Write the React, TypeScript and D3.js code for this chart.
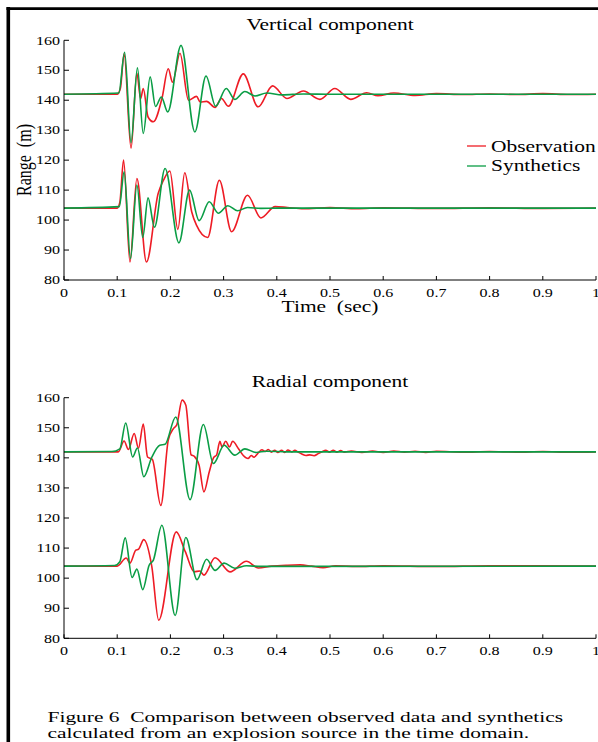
import React from "react";
import * as d3 from "d3";

// ---------- data: [time (s), range (m)] ----------
const xTicks = [0, 0.1, 0.2, 0.3, 0.4, 0.5, 0.6, 0.7, 0.8, 0.9, 1];
const xTickLabels = ["0", "0.1", "0.2", "0.3", "0.4", "0.5", "0.6", "0.7", "0.8", "0.9", "1"];
const yTicks = [80, 90, 100, 110, 120, 130, 140, 150, 160];

const vertObsUpper: [number, number][] = [
  [0, 142], [0.1, 142], [0.106, 144], [0.113, 155.5], [0.126, 124], [0.137, 149], [0.144, 140.5],
  [0.149, 143.9], [0.158, 134.4], [0.168, 132.8], [0.184, 140.5], [0.196, 150.5], [0.204, 146],
  [0.218, 155.7], [0.234, 140], [0.249, 141.3], [0.256, 139.4], [0.268, 139.6], [0.284, 137.6],
  [0.296, 140.6], [0.309, 138], [0.337, 148.8], [0.365, 137.8], [0.392, 144.8], [0.419, 140.6],
  [0.45, 143.1], [0.481, 140.3], [0.509, 143.9], [0.539, 140.3], [0.569, 142.5], [0.59, 141.5],
  [0.62, 142.4], [0.66, 141.6], [0.7, 142.2], [0.75, 141.9], [0.8, 142.1], [0.85, 141.9],
  [0.9, 142.2], [0.95, 141.9], [1, 142],
];
const vertSynUpper: [number, number][] = [
  [0, 142], [0.103, 142.4], [0.114, 156], [0.126, 125.8], [0.138, 150.8], [0.149, 128.9],
  [0.162, 147.8], [0.172, 137.9], [0.183, 141.1], [0.195, 136.1], [0.22, 158.3], [0.246, 129.4],
  [0.267, 148.1], [0.285, 138], [0.305, 143.9], [0.321, 140.3], [0.34, 142.9], [0.359, 141.4],
  [0.381, 142.4], [0.41, 141.8], [0.45, 142.1], [0.5, 142], [1, 142],
];
const vertObsLower: [number, number][] = [
  [0, 104], [0.1, 104], [0.105, 106], [0.112, 120], [0.124, 86], [0.137, 113.9], [0.155, 86],
  [0.177, 108.9], [0.187, 113.3], [0.199, 116.4], [0.214, 96.9], [0.227, 115.8], [0.24, 102.8],
  [0.249, 98.3], [0.27, 94.2], [0.292, 113.3], [0.315, 96.1], [0.345, 108.3], [0.37, 100.7],
  [0.397, 104.5], [0.42, 104.2], [0.45, 103.8], [0.5, 104.2], [0.55, 103.8], [0.6, 104.1],
  [0.7, 103.9], [0.8, 104.1], [0.9, 103.9], [1, 104],
];
const vertSynLower: [number, number][] = [
  [0, 104], [0.104, 104.5], [0.113, 116.1], [0.125, 87.2], [0.137, 111.7], [0.148, 94.2],
  [0.158, 107.4], [0.17, 97.6], [0.19, 117.2], [0.216, 92.4], [0.236, 110], [0.254, 99.8],
  [0.273, 106.1], [0.29, 102.3], [0.308, 104.8], [0.326, 103.1], [0.345, 104.2], [0.37, 103.9],
  [0.4, 104], [1, 104],
];

const radObsUpper: [number, number][] = [
  [0, 142], [0.102, 142], [0.113, 145.6], [0.121, 142.8], [0.132, 148.1], [0.14, 143.2],
  [0.149, 151.2], [0.157, 140.3], [0.166, 139.5], [0.182, 124.2], [0.196, 145.9], [0.206, 149.8],
  [0.212, 151], [0.222, 159.2], [0.229, 157.5], [0.239, 141], [0.245, 140.5], [0.254, 137.5],
  [0.263, 128.7], [0.273, 135.3], [0.281, 140], [0.287, 141], [0.293, 145.5], [0.297, 143.6],
  [0.304, 145.5], [0.311, 143.6], [0.317, 145.5], [0.328, 143], [0.337, 140.8], [0.346, 139.8],
  [0.352, 140.8], [0.357, 140.2], [0.365, 141.6], [0.372, 142.7], [0.378, 142.1], [0.384, 142.8],
  [0.39, 141.9], [0.396, 142.5], [0.402, 141.8], [0.409, 142.5], [0.415, 141.8], [0.421, 142.6],
  [0.428, 142], [0.434, 142.5], [0.44, 141.9], [0.447, 141.3], [0.455, 140.8], [0.462, 141],
  [0.47, 140.7], [0.478, 141.4], [0.485, 142], [0.492, 142.5], [0.499, 141.9], [0.506, 142.5],
  [0.513, 141.9], [0.52, 142.4], [0.527, 141.9], [0.54, 142.3], [0.56, 141.8], [0.58, 142.3],
  [0.6, 141.8], [0.62, 142.3], [0.64, 141.9], [0.66, 142.2], [0.68, 141.8], [0.7, 142.2],
  [0.75, 141.9], [0.8, 142.1], [0.85, 141.9], [0.9, 142.1], [0.95, 141.9], [1, 142],
];
const radSynUpper: [number, number][] = [
  [0, 142], [0.09, 142.1], [0.105, 143], [0.116, 151.6], [0.129, 140.3], [0.138, 143.3],
  [0.15, 133.7], [0.165, 140.2], [0.18, 144.2], [0.19, 144.5], [0.21, 153.6], [0.237, 126.1],
  [0.262, 151.1], [0.281, 138.1], [0.301, 144.2], [0.321, 140.9], [0.34, 143], [0.361, 141.8],
  [0.38, 142.2], [0.42, 142], [1, 142],
];
const radObsLower: [number, number][] = [
  [0, 104], [0.1, 104], [0.117, 106.7], [0.124, 105], [0.135, 109.3], [0.14, 109.6],
  [0.15, 112.8], [0.165, 103.9], [0.178, 86], [0.211, 115.4], [0.228, 108.8], [0.245, 102.1],
  [0.255, 102.4], [0.263, 101], [0.284, 106.8], [0.312, 102.1], [0.343, 105.6], [0.365, 103.4],
  [0.39, 104], [0.42, 104.3], [0.444, 104.4], [0.465, 104], [0.487, 103.5], [0.51, 104.1],
  [0.55, 103.9], [0.6, 104.1], [0.7, 103.9], [0.8, 104.1], [1, 104],
];
const radSynLower: [number, number][] = [
  [0, 104], [0.095, 104.2], [0.105, 105.5], [0.115, 113.4], [0.128, 100.2], [0.137, 103],
  [0.148, 96.2], [0.16, 104.3], [0.168, 106], [0.184, 117.6], [0.209, 87.6], [0.229, 113.5],
  [0.25, 99.5], [0.268, 106.3], [0.284, 102.6], [0.301, 105], [0.321, 103.3], [0.343, 104.1],
  [0.37, 103.9], [1, 104],
];

const legendLabels = ["Observation", "Synthetics"];
const captionLines = [
  "Figure 6  Comparison between observed data and synthetics",
  "calculated from an explosion source in the time domain.",
];

// ---------- styling ----------
const RED = "#ee1c25";
const GREEN = "#0a9d45";
const FONT = "'Liberation Serif', 'Times New Roman', serif";
const SX = 1.34;

function T({ x, y, size, anchor = "start", rotate = false, sx = SX, children }: any) {
  return (
    <text
      transform={`translate(${x},${y}) scale(${sx},1)${rotate ? " rotate(-90)" : ""}`}
      fontFamily={FONT}
      fontSize={size}
      textAnchor={anchor}
      fill="#000"
    >
      {children}
    </text>
  );
}

const xScale = d3.scaleLinear().domain([0, 1]).range([64, 596]);

function Panel({ yTop, yBottom, title, titleY, series, legend }: any) {
  const y = d3.scaleLinear().domain([80, 160]).range([yBottom, yTop]);
  const line = d3
    .line<[number, number]>()
    .x((d) => xScale(d[0]))
    .y((d) => y(d[1]))
    .curve(d3.curveMonotoneX);
  return (
    <g>
      <T x={330} y={titleY} size={16} anchor="middle">{title}</T>
      {series.map((s: any, i: number) => (
        <path key={i} d={line(s.data) || ""} fill="none" stroke={s.color} strokeWidth={1.6} strokeLinejoin="round" />
      ))}
      {/* axes */}
      <line x1={xScale(0)} x2={xScale(0)} y1={y(80)} y2={y(160)} stroke="#000" strokeWidth={1} />
      <line x1={xScale(0)} x2={xScale(1)} y1={y(80)} y2={y(80)} stroke="#000" strokeWidth={1} />
      {yTicks.map((t) => (
        <g key={"y" + t}>
          <line x1={xScale(0)} x2={xScale(0) + 5} y1={y(t)} y2={y(t)} stroke="#000" strokeWidth={1} />
          <T x={xScale(0) - 4} y={y(t) + 4.2} size={12} anchor="end">{t}</T>
        </g>
      ))}
      {xTicks.map((t, i) => (
        <g key={"x" + t}>
          <line x1={xScale(t)} x2={xScale(t)} y1={y(80)} y2={y(80) - 4} stroke="#000" strokeWidth={1} />
          <T x={xScale(t)} y={y(80) + 16.5} size={12} anchor="middle">{xTickLabels[i]}</T>
        </g>
      ))}
      {legend && (
        <g>
          {legendLabels.map((lab, i) => (
            <g key={lab}>
              <line x1={467} x2={486} y1={146 + i * 20} y2={146 + i * 20} stroke={i === 0 ? RED : GREEN} strokeWidth={1.3} />
              <T x={491} y={152 + i * 19} size={16}>{lab}</T>
            </g>
          ))}
        </g>
      )}
    </g>
  );
}

export default function App() {
  return (
    <svg width={598} height={742} style={{ position: "absolute", left: 0, top: 0, background: "#fff" }}>
      <rect x={0} y={0} width={598} height={742} fill="#fff" />
      {/* frame */}
      <line x1={8.3} x2={8.3} y1={7} y2={742} stroke="#000" strokeWidth={3.6} />
      <line x1={6.5} x2={598} y1={8.7} y2={8.7} stroke="#000" strokeWidth={2.8} />

      <Panel
        yTop={40.3}
        yBottom={280}
        title="Vertical component"
        titleY={30}
        legend
        series={[
          { data: vertObsUpper, color: RED },
          { data: vertObsLower, color: RED },
          { data: vertSynUpper, color: GREEN },
          { data: vertSynLower, color: GREEN },
        ]}
      />
      <T x={330} y={312} size={16} anchor="middle">{"Time\u00a0\u00a0(sec)"}</T>
      <T x={31} y={160} size={16} anchor="middle" rotate>{"Range\u00a0\u00a0(m)"}</T>

      <Panel
        yTop={397.7}
        yBottom={638.3}
        title="Radial component"
        titleY={387}
        series={[
          { data: radObsUpper, color: RED },
          { data: radObsLower, color: RED },
          { data: radSynUpper, color: GREEN },
          { data: radSynLower, color: GREEN },
        ]}
      />

      {captionLines.map((c, i) => (
        <T key={i} x={47.5} y={721.5 + i * 16.2} size={15} sx={1.43}>{c.replace(/ {2}/g, "\u00a0 ")}</T>
      ))}
    </svg>
  );
}
